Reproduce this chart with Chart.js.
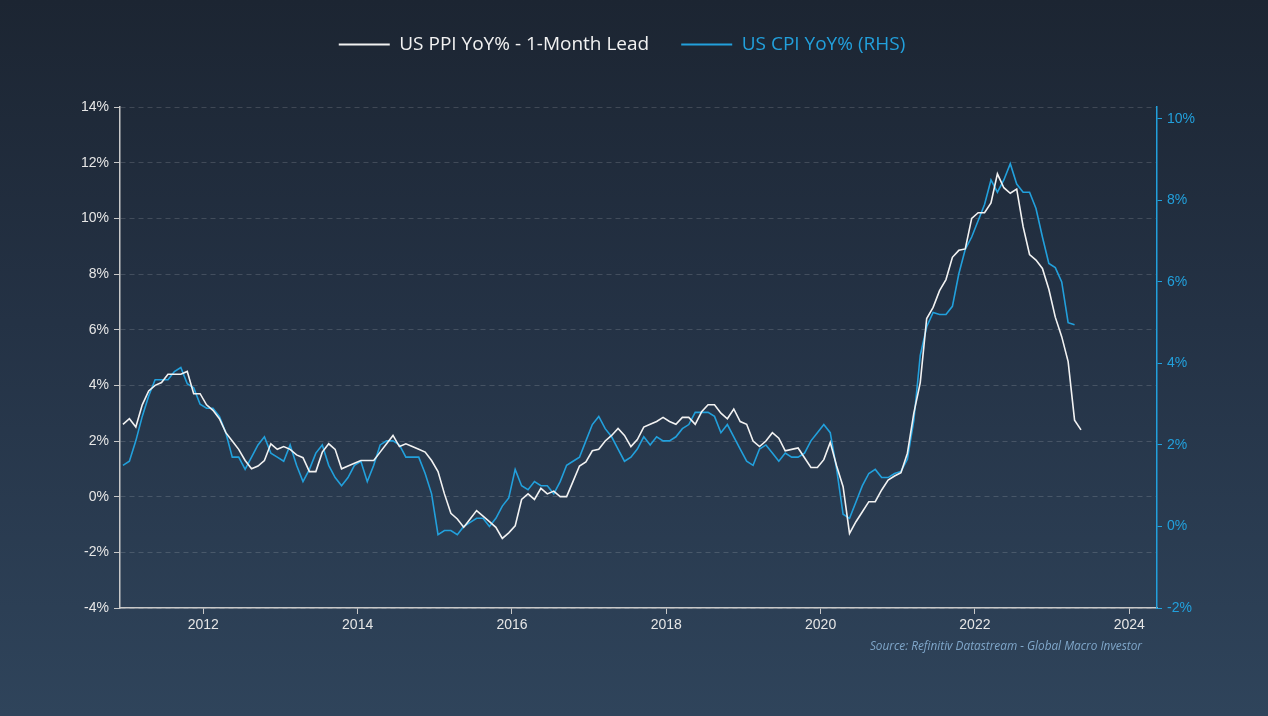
<!DOCTYPE html>
<html>
<head>
<meta charset="utf-8">
<script src="https://cdn.jsdelivr.net/npm/chart.js@4.4.1/dist/chart.umd.min.js"></script>
<style>
  html, body { margin: 0; padding: 0; }
  body {
    width: 1268px; height: 716px; overflow: hidden;
    background: linear-gradient(to bottom, #1c2532 0%, #243245 45%, #2f445b 100%);
    position: relative;
  }
  #wrap { position: absolute; left: 0; top: 0; width: 1268px; height: 716px; }
  #source {
    position: absolute; right: 126px; top: 637px;
    font: italic 11.8px "Open Sans", sans-serif; color: #7fa6c9;
  }
</style>
</head>
<body>
<div id="wrap"><canvas id="chart" width="1268" height="716"></canvas></div>
<div id="source">Source: Refinitiv Datastream - Global Macro Investor</div>
<script>
// monthly series, first point = Dec 2010
const START_YEAR = 2010;
const START_MONTH = 12;

const seriesNames = ["US PPI YoY% - 1-Month Lead", "US CPI YoY% (RHS)"];

// PPI final demand YoY %, shifted forward one month (Dec 2010 .. May 2023)
const ppiYoY = [
  2.6, 2.8, 2.5, 3.3, 3.8, 4.0, 4.1, 4.4, 4.4, 4.4, 4.5, 3.7,
  3.7, 3.3, 3.1, 2.8, 2.3, 2.0, 1.7, 1.3, 1.0, 1.1, 1.3, 1.9,
  1.7, 1.8, 1.7, 1.5, 1.4, 0.9, 0.9, 1.6, 1.9, 1.7, 1.0, 1.1,
  1.2, 1.3, 1.3, 1.3, 1.6, 1.9, 2.2, 1.8, 1.9, 1.8, 1.7, 1.6,
  1.3, 0.9, 0.1, -0.6, -0.8, -1.1, -0.8, -0.5, -0.7, -0.9, -1.1, -1.5,
  -1.3, -1.05, -0.1, 0.1, -0.1, 0.3, 0.1, 0.2, 0.0, 0.0, 0.55, 1.1,
  1.25, 1.65, 1.7, 2.0, 2.2, 2.45, 2.2, 1.8, 2.05, 2.5, 2.6, 2.7,
  2.85, 2.7, 2.6, 2.85, 2.85, 2.6, 3.05, 3.3, 3.3, 3.0, 2.8, 3.15,
  2.7, 2.6, 2.0, 1.8, 2.0, 2.3, 2.1, 1.65, 1.7, 1.75, 1.4, 1.05,
  1.05, 1.33, 1.95, 1.1, 0.36, -1.32, -0.9, -0.54, -0.18, -0.18, 0.24, 0.6,
  0.74, 0.86, 1.56, 3.0, 4.1, 6.4, 6.8, 7.4, 7.8, 8.6, 8.85, 8.9,
  10.0, 10.2, 10.2, 10.55, 11.6, 11.1, 10.9, 11.05, 9.7, 8.7, 8.5, 8.2,
  7.45, 6.45, 5.75, 4.85, 2.75, 2.4
];

// CPI YoY % (Dec 2010 .. Apr 2023)
const cpiYoY = [
  1.5,
  1.6, 2.1, 2.7, 3.2, 3.6, 3.6, 3.6, 3.8, 3.9, 3.5, 3.4, 3.0,
  2.9, 2.9, 2.7, 2.3, 1.7, 1.7, 1.4, 1.7, 2.0, 2.2, 1.8, 1.7,
  1.6, 2.0, 1.5, 1.1, 1.4, 1.8, 2.0, 1.5, 1.2, 1.0, 1.2, 1.5,
  1.6, 1.1, 1.5, 2.0, 2.1, 2.1, 2.0, 1.7, 1.7, 1.7, 1.3, 0.8,
  -0.2, -0.1, -0.1, -0.2, 0.0, 0.1, 0.2, 0.2, 0.0, 0.2, 0.5, 0.7,
  1.4, 1.0, 0.9, 1.1, 1.0, 1.0, 0.8, 1.1, 1.5, 1.6, 1.7, 2.1,
  2.5, 2.7, 2.4, 2.2, 1.9, 1.6, 1.7, 1.9, 2.2, 2.0, 2.2, 2.1,
  2.1, 2.2, 2.4, 2.5, 2.8, 2.8, 2.8, 2.7, 2.3, 2.5, 2.2, 1.9,
  1.6, 1.5, 1.9, 2.0, 1.8, 1.6, 1.8, 1.7, 1.7, 1.8, 2.1, 2.3,
  2.5, 2.3, 1.4, 0.3, 0.2, 0.6, 1.0, 1.3, 1.4, 1.2, 1.2, 1.3,
  1.35, 1.65, 2.6, 4.2, 4.9, 5.25, 5.2, 5.2, 5.4, 6.2, 6.8, 7.1,
  7.5, 7.9, 8.5, 8.2, 8.5, 8.9, 8.4, 8.2, 8.2, 7.8, 7.1, 6.45,
  6.35, 6.0, 5.0, 4.95
];

const xTicks = [2012, 2014, 2016, 2018, 2020, 2022, 2024];
const leftTicks = [-4, -2, 0, 2, 4, 6, 8, 10, 12, 14];
const rightTicks = [-2, 0, 2, 4, 6, 8, 10];

const WHITE = "#f2f2f2";
const BLUE = "#22a0dc";

// month index -> decimal year at mid-month
function monthToX(i) {
  const m = START_MONTH - 1 + i;
  return START_YEAR + (m + 0.5) / 12;
}

function toPoints(values) {
  return values.map((v, i) => ({ x: monthToX(i), y: v }));
}

const tickFont = { family: "'Liberation Sans', Arial, sans-serif", size: 14 };

const ctx = document.getElementById("chart").getContext("2d");
const chart = new Chart(ctx, {
  type: "line",
  data: {
    datasets: [
      {
        label: seriesNames[0],
        data: toPoints(ppiYoY),
        borderColor: WHITE,
        backgroundColor: WHITE,
        borderWidth: 1.6,
        pointRadius: 0,
        tension: 0,
        yAxisID: "y",
      },
      {
        label: seriesNames[1],
        data: toPoints(cpiYoY),
        borderColor: BLUE,
        backgroundColor: BLUE,
        borderWidth: 1.6,
        pointRadius: 0,
        tension: 0,
        yAxisID: "y1",
      }
    ]
  },
  options: {
    responsive: false,
    animation: false,
    layout: { padding: { top: 3, left: 0, right: 24, bottom: 0 } },
    plugins: {
      legend: {
        display: true,
        position: "top",
        weight: 3000,
        labels: {
          boxWidth: 51,
          boxHeight: 2,
          padding: 32,
          font: { family: "'Open Sans', sans-serif", size: 19 },
          generateLabels(chart) {
            return chart.data.datasets.map((ds, i) => ({
              text: ds.label,
              fillStyle: ds.borderColor,
              strokeStyle: ds.borderColor,
              lineWidth: 0,
              fontColor: i === 0 ? WHITE : BLUE,
              datasetIndex: i,
              hidden: false,
            }));
          }
        }
      },
      // empty title used only as spacing between legend and plot
      title: {
        display: true,
        text: "",
        font: { size: 10, lineHeight: 1.2 },
        padding: { top: 0, bottom: 31 },
      },
      tooltip: { enabled: false },
    },
    scales: {
      x: {
        type: "linear",
        min: 2010.92,
        max: 2024.36,
        afterBuildTicks(scale) {
          scale.ticks = xTicks.map(v => ({ value: v }));
        },
        afterFit(scale) { scale.height = 108; },
        ticks: {
          color: "#e6e6e6",
          font: tickFont,
          padding: 3,
          maxRotation: 0,
          callback: v => String(v),
        },
        grid: {
          drawOnChartArea: false,
          drawTicks: true,
          tickLength: 6,
          tickColor: "#c8c8c8",
        },
        border: { color: "#c8c8c8", width: 1.5 },
      },
      y: {
        position: "left",
        min: -4,
        max: 14,
        afterBuildTicks(scale) {
          scale.ticks = leftTicks.map(v => ({ value: v }));
        },
        afterFit(scale) { scale.width = 120; },
        ticks: {
          color: "#e6e6e6",
          font: tickFont,
          padding: 5,
          callback: v => v + "%",
        },
        grid: {
          color: "rgba(255,255,255,0.15)",
          tickColor: "#c8c8c8",
          tickBorderDash: [],
          tickLength: 6,
        },
        border: { color: "#c8c8c8", width: 1.5, dash: [5, 4] },
      },
      y1: {
        position: "right",
        min: -2,
        max: 10.29,
        afterBuildTicks(scale) {
          scale.ticks = rightTicks.map(v => ({ value: v }));
        },
        afterFit(scale) { scale.width = 87; },
        ticks: {
          color: BLUE,
          font: tickFont,
          padding: 5,
          callback: v => v + "%",
        },
        grid: {
          drawOnChartArea: false,
          tickColor: BLUE,
          tickLength: 5,
        },
        border: { color: BLUE, width: 1.5 },
      }
    }
  }
});
</script>
</body>
</html>
